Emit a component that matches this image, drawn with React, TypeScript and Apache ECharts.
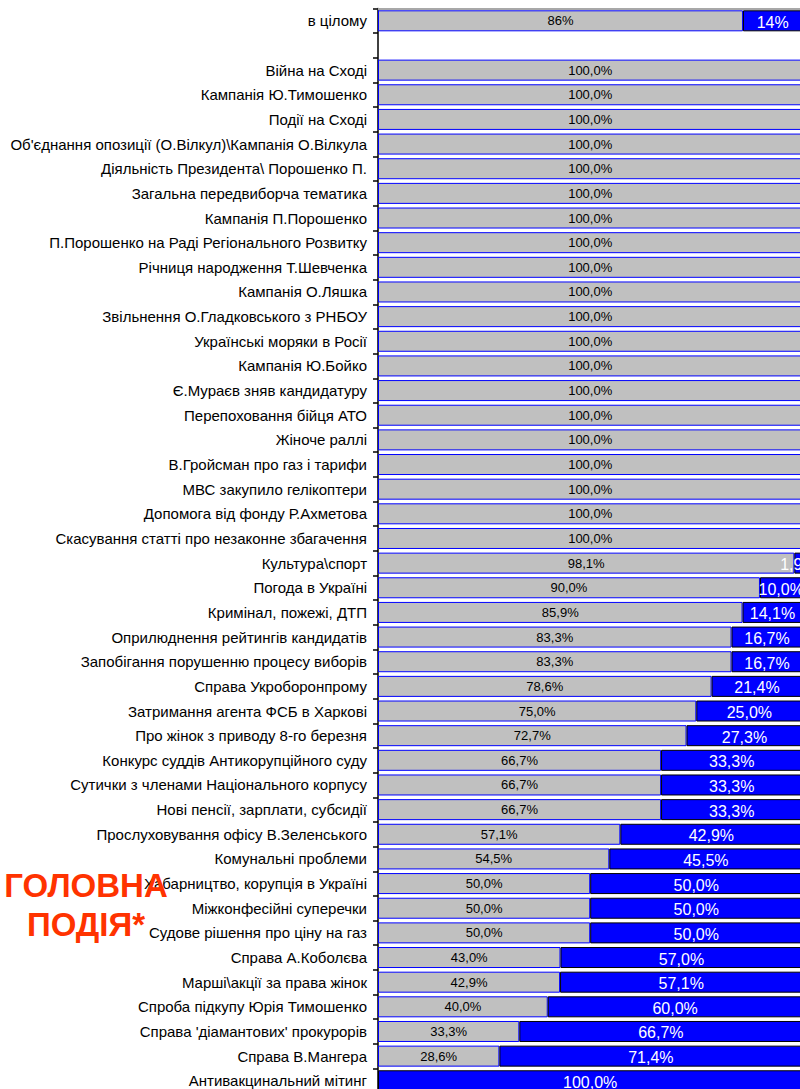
import React, { useEffect, useRef } from "react";
import * as echarts from "echarts";

const categories: string[] = [
  "в цілому",
  "",
  "Війна на Сході",
  "Кампанія Ю.Тимошенко",
  "Події на Сході",
  "Об'єднання опозиції (О.Вілкул)\\Кампанія О.Вілкула",
  "Діяльність Президента\\ Порошенко П.",
  "Загальна передвиборча тематика",
  "Кампанія П.Порошенко",
  "П.Порошенко на Раді Регіонального Розвитку",
  "Річниця народження Т.Шевченка",
  "Кампанія О.Ляшка",
  "Звільнення О.Гладковського з РНБОУ",
  "Українські моряки в Росії",
  "Кампанія Ю.Бойко",
  "Є.Мураєв зняв кандидатуру",
  "Перепоховання бійця АТО",
  "Жіноче раллі",
  "В.Гройсман про газ і тарифи",
  "МВС закупило гелікоптери",
  "Допомога від фонду Р.Ахметова",
  "Скасування статті про незаконне збагачення",
  "Культура\\спорт",
  "Погода в Україні",
  "Кримінал, пожежі, ДТП",
  "Оприлюднення рейтингів кандидатів",
  "Запобігання порушенню процесу виборів",
  "Справа Укроборонпрому",
  "Затримання агента ФСБ в Харкові",
  "Про жінок з приводу 8-го березня",
  "Конкурс суддів Антикорупційного суду",
  "Сутички з членами Національного корпусу",
  "Нові пенсії, зарплати, субсидії",
  "Прослуховування офісу В.Зеленського",
  "Комунальні проблеми",
  "Хабарництво, корупція в Україні",
  "Міжконфесійні суперечки",
  "Судове рішення про ціну на газ",
  "Справа А.Коболєва",
  "Марші\\акції за права жінок",
  "Спроба підкупу Юрія Тимошенко",
  "Справа 'діамантових' прокурорів",
  "Справа В.Мангера",
  "Антивакцинальний мітинг",
];

const grayValues: (number | null)[] = [
  86, null,
  100, 100, 100, 100, 100, 100, 100, 100, 100, 100,
  100, 100, 100, 100, 100, 100, 100, 100, 100, 100,
  98.1, 90.0, 85.9, 83.3, 83.3, 78.6, 75.0, 72.7, 66.7, 66.7,
  66.7, 57.1, 54.5, 50.0, 50.0, 50.0, 43.0, 42.9, 40.0, 33.3,
  28.6, 0,
];

const blueValues: (number | null)[] = [
  14, null,
  0, 0, 0, 0, 0, 0, 0, 0, 0, 0,
  0, 0, 0, 0, 0, 0, 0, 0, 0, 0,
  1.9, 10.0, 14.1, 16.7, 16.7, 21.4, 25.0, 27.3, 33.3, 33.3,
  33.3, 42.9, 45.5, 50.0, 50.0, 50.0, 57.0, 57.1, 60.0, 66.7,
  71.4, 100.0,
];

const fmt = (v: number, idx: number) => {
  if (!v) return "";
  if (idx === 0) return Math.round(v) + "%";
  return v.toFixed(1).replace(".", ",") + "%";
};

const toItems = (arr: (number | null)[]) =>
  arr.map((v) =>
    v === 0 ? { value: 0, itemStyle: { borderWidth: 0 } } : v
  );

export default function App() {
  const ref = useRef<HTMLDivElement>(null);
  useEffect(() => {
    if (!ref.current) return;
    const chart = echarts.init(ref.current, null, { renderer: "svg" });
    const font = '"Liberation Sans", Arial, sans-serif';
    chart.setOption({
      animation: false,
      backgroundColor: "#ffffff",
      grid: { left: 378, top: 8.5, width: 424.4, height: 44 * 24.65, containLabel: false },
      xAxis: {
        type: "value",
        min: 0,
        max: 100,
        position: "top",
        axisLine: { show: true, lineStyle: { color: "#a8a8a8", width: 2 } },
        axisTick: { show: false },
        axisLabel: { show: false },
        splitLine: { show: false },
      },
      yAxis: {
        type: "category",
        inverse: true,
        data: categories,
        axisLine: { show: true, lineStyle: { color: "#000000", width: 1.5 } },
        axisTick: { show: true, length: 5, lineStyle: { color: "#000000", width: 1.5 } },
        axisLabel: {
          color: "#000000",
          fontFamily: font,
          fontSize: 15,
          margin: 11,
        },
      },
      series: [
        {
          type: "bar",
          stack: "total",
          barWidth: 21,
          data: toItems(grayValues),
          itemStyle: { color: "#c0c0c0", borderColor: "#0000ff", borderWidth: 1 },
          label: {
            show: true,
            position: "inside",
            color: "#000000",
            fontFamily: font,
            fontSize: 13,
            formatter: (p: any) => fmt(p.value, p.dataIndex),
          },
        },
        {
          type: "bar",
          stack: "total",
          barWidth: 21,
          data: toItems(blueValues),
          itemStyle: { color: "#0000ff", borderColor: "#000000", borderWidth: 1 },
          label: {
            show: true,
            position: "inside",
            color: "#ffffff",
            fontFamily: font,
            fontSize: 16,
            offset: [0, 1.5],
            formatter: (p: any) => fmt(p.value, p.dataIndex),
          },
        },
      ],
      graphic: [
        {
          type: "text",
          x: 86,
          y: 885,
          z: 100,
          style: {
            text: "ГОЛОВНА",
            fill: "#ff3300",
            font: 'bold 33px "Liberation Sans", Arial, sans-serif',
            textAlign: "center",
            textVerticalAlign: "middle",
          },
        },
        {
          type: "text",
          x: 86,
          y: 924,
          z: 100,
          style: {
            text: "ПОДІЯ*",
            fill: "#ff3300",
            font: 'bold 33px "Liberation Sans", Arial, sans-serif',
            textAlign: "center",
            textVerticalAlign: "middle",
          },
        },
      ],
    });
    return () => chart.dispose();
  }, []);
  return (
    <div
      ref={ref}
      style={{ position: "fixed", left: 0, top: 0, width: 810, height: 1100, background: "#fff" }}
    />
  );
}
